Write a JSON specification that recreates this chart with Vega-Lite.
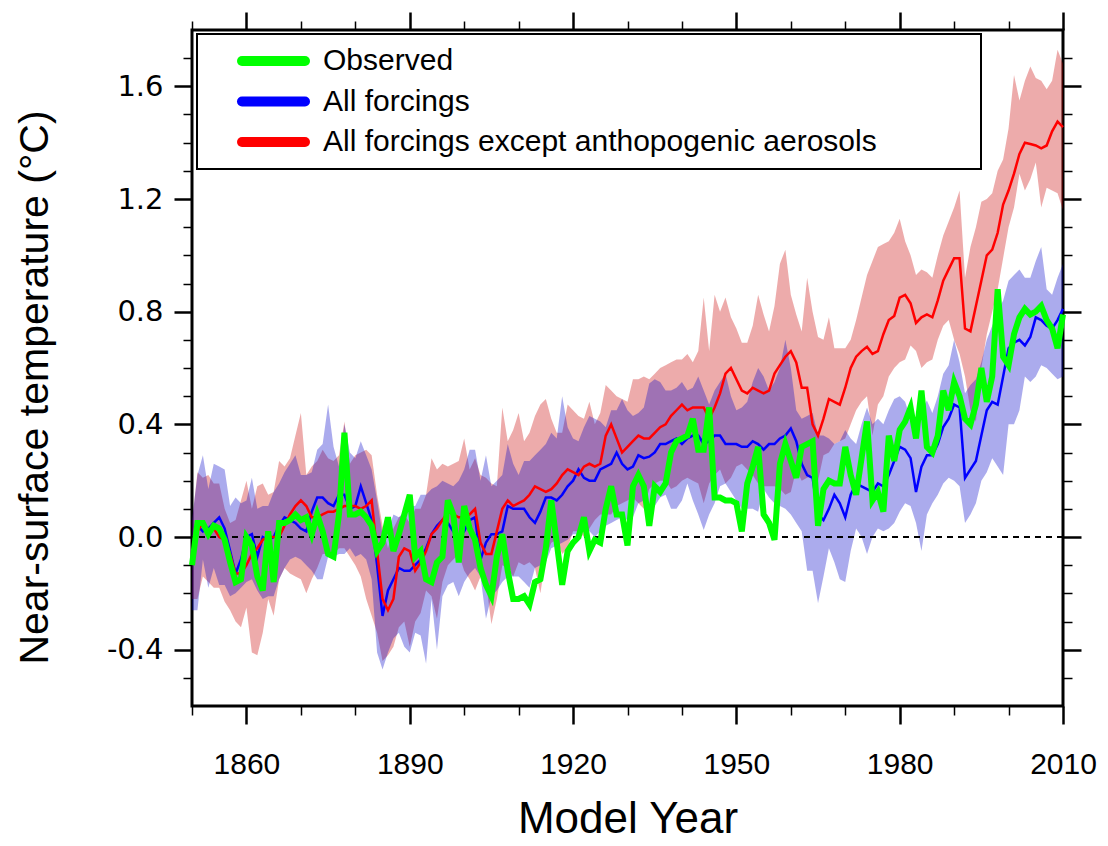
{
  "$schema": "https://vega.github.io/schema/vega-lite/v6.json",
  "width": 871,
  "height": 676,
  "autosize": {"type": "none"},
  "padding": {"left": 192, "top": 30, "right": 45, "bottom": 140},
  "background": "white",
  "config": {
    "view": {"stroke": "black", "strokeWidth": 3},
    "font": "Liberation Sans",
    "axis": {"domain": false, "grid": false, "tickColor": "black", "labelColor": "black", "titleColor": "black", "labelFont": "Liberation Sans", "titleFont": "Liberation Sans", "titleFontWeight": "normal", "labelFlush": false, "labelOverlap": false, "labelBound": false}
  },
  "data": {"values": [
{"year":1850,"obs":-0.10,"all":-0.08,"allLo":-0.26,"allHi":0.06,"aer":-0.08,"aerLo":-0.22,"aerHi":0.05},
{"year":1851,"obs":0.05,"all":0.04,"allLo":-0.26,"allHi":0.22,"aer":0.02,"aerLo":-0.22,"aerHi":0.23},
{"year":1852,"obs":0.05,"all":0.02,"allLo":-0.08,"allHi":0.29,"aer":0.05,"aerLo":-0.14,"aerHi":0.21},
{"year":1853,"obs":0.01,"all":0.03,"allLo":-0.18,"allHi":0.17,"aer":0.02,"aerLo":-0.16,"aerHi":0.22},
{"year":1854,"obs":0.04,"all":0.05,"allLo":-0.11,"allHi":0.26,"aer":0.03,"aerLo":-0.18,"aerHi":0.19},
{"year":1855,"obs":0.03,"all":0.07,"allLo":-0.17,"allHi":0.25,"aer":0.00,"aerLo":-0.18,"aerHi":0.19},
{"year":1856,"obs":-0.01,"all":0.03,"allLo":-0.17,"allHi":0.24,"aer":-0.01,"aerLo":-0.23,"aerHi":0.10},
{"year":1857,"obs":-0.09,"all":-0.05,"allLo":-0.21,"allHi":0.11,"aer":-0.06,"aerLo":-0.26,"aerHi":0.05},
{"year":1858,"obs":-0.16,"all":-0.13,"allLo":-0.20,"allHi":0.14,"aer":-0.13,"aerLo":-0.30,"aerHi":0.06},
{"year":1859,"obs":-0.15,"all":-0.08,"allLo":-0.18,"allHi":0.12,"aer":-0.13,"aerLo":-0.32,"aerHi":0.13},
{"year":1860,"obs":0.00,"all":0.00,"allLo":-0.16,"allHi":0.13,"aer":-0.10,"aerLo":-0.25,"aerHi":0.20},
{"year":1861,"obs":-0.03,"all":0.01,"allLo":-0.15,"allHi":0.21,"aer":-0.06,"aerLo":-0.41,"aerHi":0.10},
{"year":1862,"obs":-0.14,"all":-0.07,"allLo":-0.19,"allHi":0.10,"aer":-0.04,"aerLo":-0.42,"aerHi":0.18},
{"year":1863,"obs":-0.19,"all":0.00,"allLo":-0.22,"allHi":0.11,"aer":-0.01,"aerLo":-0.34,"aerHi":0.19},
{"year":1864,"obs":0.02,"all":-0.01,"allLo":-0.21,"allHi":0.11,"aer":0.00,"aerLo":-0.22,"aerHi":0.15},
{"year":1865,"obs":-0.16,"all":0.00,"allLo":-0.21,"allHi":0.16,"aer":0.00,"aerLo":-0.28,"aerHi":0.16},
{"year":1866,"obs":0.05,"all":0.04,"allLo":-0.15,"allHi":0.19,"aer":0.00,"aerLo":-0.15,"aerHi":0.27},
{"year":1867,"obs":0.05,"all":0.07,"allLo":-0.11,"allHi":0.23,"aer":0.04,"aerLo":-0.11,"aerHi":0.25},
{"year":1868,"obs":0.06,"all":0.06,"allLo":-0.08,"allHi":0.26,"aer":0.08,"aerLo":-0.13,"aerHi":0.28},
{"year":1869,"obs":0.08,"all":0.05,"allLo":-0.07,"allHi":0.29,"aer":0.11,"aerLo":-0.14,"aerHi":0.36},
{"year":1870,"obs":0.06,"all":0.03,"allLo":-0.08,"allHi":0.22,"aer":0.13,"aerLo":-0.15,"aerHi":0.44},
{"year":1871,"obs":0.07,"all":0.02,"allLo":-0.10,"allHi":0.22,"aer":0.11,"aerLo":-0.20,"aerHi":0.22},
{"year":1872,"obs":0.01,"all":0.09,"allLo":-0.12,"allHi":0.23,"aer":0.07,"aerLo":-0.15,"aerHi":0.25},
{"year":1873,"obs":0.08,"all":0.14,"allLo":-0.15,"allHi":0.31,"aer":0.07,"aerLo":-0.11,"aerHi":0.27},
{"year":1874,"obs":0.02,"all":0.14,"allLo":-0.15,"allHi":0.33,"aer":0.08,"aerLo":-0.06,"aerHi":0.31},
{"year":1875,"obs":-0.06,"all":0.12,"allLo":-0.07,"allHi":0.47,"aer":0.09,"aerLo":-0.06,"aerHi":0.28},
{"year":1876,"obs":-0.07,"all":0.11,"allLo":-0.07,"allHi":0.32,"aer":0.09,"aerLo":-0.06,"aerHi":0.27},
{"year":1877,"obs":0.08,"all":0.15,"allLo":-0.06,"allHi":0.25,"aer":0.10,"aerLo":-0.04,"aerHi":0.29},
{"year":1878,"obs":0.37,"all":0.15,"allLo":-0.06,"allHi":0.40,"aer":0.11,"aerLo":-0.04,"aerHi":0.41},
{"year":1879,"obs":0.08,"all":0.10,"allLo":-0.04,"allHi":0.30,"aer":0.11,"aerLo":-0.07,"aerHi":0.26},
{"year":1880,"obs":0.08,"all":0.11,"allLo":-0.07,"allHi":0.28,"aer":0.11,"aerLo":-0.10,"aerHi":0.29},
{"year":1881,"obs":0.09,"all":0.18,"allLo":-0.06,"allHi":0.34,"aer":0.10,"aerLo":-0.14,"aerHi":0.30},
{"year":1882,"obs":0.07,"all":0.12,"allLo":-0.08,"allHi":0.29,"aer":0.11,"aerLo":-0.22,"aerHi":0.31},
{"year":1883,"obs":0.04,"all":0.06,"allLo":-0.15,"allHi":0.24,"aer":0.13,"aerLo":-0.28,"aerHi":0.29},
{"year":1884,"obs":-0.05,"all":-0.10,"allLo":-0.41,"allHi":0.13,"aer":-0.05,"aerLo":-0.34,"aerHi":0.15},
{"year":1885,"obs":-0.02,"all":-0.28,"allLo":-0.47,"allHi":0.01,"aer":-0.22,"aerLo":-0.44,"aerHi":0.04},
{"year":1886,"obs":0.07,"all":-0.19,"allLo":-0.41,"allHi":0.02,"aer":-0.26,"aerLo":-0.42,"aerHi":-0.04},
{"year":1887,"obs":-0.05,"all":-0.15,"allLo":-0.36,"allHi":0.08,"aer":-0.22,"aerLo":-0.39,"aerHi":0.03},
{"year":1888,"obs":0.01,"all":-0.11,"allLo":-0.34,"allHi":0.07,"aer":-0.07,"aerLo":-0.32,"aerHi":0.07},
{"year":1889,"obs":0.08,"all":-0.12,"allLo":-0.39,"allHi":0.09,"aer":-0.04,"aerLo":-0.30,"aerHi":0.08},
{"year":1890,"obs":0.15,"all":-0.12,"allLo":-0.41,"allHi":0.11,"aer":-0.05,"aerLo":-0.39,"aerHi":0.05},
{"year":1891,"obs":-0.07,"all":-0.10,"allLo":-0.34,"allHi":0.11,"aer":-0.12,"aerLo":-0.30,"aerHi":0.10},
{"year":1892,"obs":-0.05,"all":-0.08,"allLo":-0.35,"allHi":0.15,"aer":-0.09,"aerLo":-0.27,"aerHi":0.10},
{"year":1893,"obs":-0.15,"all":-0.04,"allLo":-0.45,"allHi":0.15,"aer":-0.05,"aerLo":-0.19,"aerHi":0.15},
{"year":1894,"obs":-0.16,"all":0.01,"allLo":-0.22,"allHi":0.17,"aer":0.01,"aerLo":-0.21,"aerHi":0.28},
{"year":1895,"obs":-0.09,"all":0.04,"allLo":-0.40,"allHi":0.18,"aer":0.03,"aerLo":-0.29,"aerHi":0.24},
{"year":1896,"obs":-0.07,"all":0.06,"allLo":-0.21,"allHi":0.20,"aer":0.06,"aerLo":-0.16,"aerHi":0.26},
{"year":1897,"obs":0.13,"all":0.05,"allLo":-0.17,"allHi":0.19,"aer":0.09,"aerLo":-0.10,"aerHi":0.25},
{"year":1898,"obs":0.08,"all":0.02,"allLo":-0.16,"allHi":0.18,"aer":0.08,"aerLo":-0.08,"aerHi":0.26},
{"year":1899,"obs":-0.09,"all":0.00,"allLo":-0.21,"allHi":0.20,"aer":0.07,"aerLo":-0.06,"aerHi":0.27},
{"year":1900,"obs":0.11,"all":0.02,"allLo":-0.16,"allHi":0.24,"aer":0.07,"aerLo":-0.12,"aerHi":0.35},
{"year":1901,"obs":0.03,"all":0.06,"allLo":-0.13,"allHi":0.31,"aer":0.08,"aerLo":-0.15,"aerHi":0.24},
{"year":1902,"obs":-0.01,"all":0.07,"allLo":-0.11,"allHi":0.31,"aer":0.10,"aerLo":-0.19,"aerHi":0.28},
{"year":1903,"obs":-0.11,"all":-0.08,"allLo":-0.14,"allHi":0.20,"aer":-0.02,"aerLo":-0.14,"aerHi":0.22},
{"year":1904,"obs":-0.17,"all":-0.02,"allLo":-0.29,"allHi":0.29,"aer":-0.06,"aerLo":-0.16,"aerHi":0.21},
{"year":1905,"obs":-0.21,"all":0.01,"allLo":-0.21,"allHi":0.18,"aer":-0.06,"aerLo":-0.31,"aerHi":0.19},
{"year":1906,"obs":-0.07,"all":0.01,"allLo":-0.19,"allHi":0.20,"aer":0.02,"aerLo":-0.22,"aerHi":0.18},
{"year":1907,"obs":0.01,"all":0.02,"allLo":-0.16,"allHi":0.22,"aer":0.10,"aerLo":-0.10,"aerHi":0.46},
{"year":1908,"obs":-0.12,"all":0.11,"allLo":-0.14,"allHi":0.33,"aer":0.13,"aerLo":-0.11,"aerHi":0.34},
{"year":1909,"obs":-0.22,"all":0.10,"allLo":-0.14,"allHi":0.26,"aer":0.11,"aerLo":-0.14,"aerHi":0.38},
{"year":1910,"obs":-0.22,"all":0.10,"allLo":-0.14,"allHi":0.22,"aer":0.12,"aerLo":-0.09,"aerHi":0.44},
{"year":1911,"obs":-0.21,"all":0.10,"allLo":-0.16,"allHi":0.27,"aer":0.13,"aerLo":-0.10,"aerHi":0.34},
{"year":1912,"obs":-0.24,"all":0.07,"allLo":-0.18,"allHi":0.27,"aer":0.15,"aerLo":-0.09,"aerHi":0.37},
{"year":1913,"obs":-0.16,"all":0.05,"allLo":-0.11,"allHi":0.29,"aer":0.18,"aerLo":-0.11,"aerHi":0.43},
{"year":1914,"obs":-0.15,"all":0.09,"allLo":-0.10,"allHi":0.31,"aer":0.17,"aerLo":-0.20,"aerHi":0.47},
{"year":1915,"obs":-0.04,"all":0.14,"allLo":-0.09,"allHi":0.33,"aer":0.16,"aerLo":-0.07,"aerHi":0.49},
{"year":1916,"obs":0.13,"all":0.14,"allLo":-0.04,"allHi":0.37,"aer":0.17,"aerLo":-0.02,"aerHi":0.42},
{"year":1917,"obs":-0.02,"all":0.13,"allLo":-0.03,"allHi":0.35,"aer":0.19,"aerLo":-0.01,"aerHi":0.37},
{"year":1918,"obs":-0.17,"all":0.15,"allLo":-0.02,"allHi":0.50,"aer":0.22,"aerLo":-0.06,"aerHi":0.37},
{"year":1919,"obs":-0.05,"all":0.18,"allLo":-0.01,"allHi":0.39,"aer":0.24,"aerLo":-0.04,"aerHi":0.47},
{"year":1920,"obs":-0.02,"all":0.20,"allLo":0.01,"allHi":0.35,"aer":0.23,"aerLo":0.02,"aerHi":0.45},
{"year":1921,"obs":0.00,"all":0.24,"allLo":0.01,"allHi":0.34,"aer":0.22,"aerLo":0.02,"aerHi":0.43},
{"year":1922,"obs":0.07,"all":0.21,"allLo":0.04,"allHi":0.39,"aer":0.25,"aerLo":0.00,"aerHi":0.42},
{"year":1923,"obs":-0.05,"all":0.20,"allLo":0.02,"allHi":0.43,"aer":0.26,"aerLo":0.03,"aerHi":0.48},
{"year":1924,"obs":-0.01,"all":0.20,"allLo":0.00,"allHi":0.42,"aer":0.25,"aerLo":0.06,"aerHi":0.40},
{"year":1925,"obs":-0.02,"all":0.24,"allLo":0.02,"allHi":0.41,"aer":0.26,"aerLo":0.08,"aerHi":0.44},
{"year":1926,"obs":0.10,"all":0.25,"allLo":0.04,"allHi":0.39,"aer":0.36,"aerLo":0.08,"aerHi":0.54},
{"year":1927,"obs":0.18,"all":0.26,"allLo":0.05,"allHi":0.45,"aer":0.40,"aerLo":0.08,"aerHi":0.52},
{"year":1928,"obs":0.08,"all":0.30,"allLo":0.06,"allHi":0.45,"aer":0.35,"aerLo":0.11,"aerHi":0.50},
{"year":1929,"obs":0.08,"all":0.26,"allLo":0.07,"allHi":0.49,"aer":0.30,"aerLo":0.12,"aerHi":0.49},
{"year":1930,"obs":-0.03,"all":0.24,"allLo":0.06,"allHi":0.45,"aer":0.32,"aerLo":0.13,"aerHi":0.48},
{"year":1931,"obs":0.18,"all":0.25,"allLo":0.07,"allHi":0.43,"aer":0.34,"aerLo":0.14,"aerHi":0.56},
{"year":1932,"obs":0.22,"all":0.29,"allLo":0.12,"allHi":0.44,"aer":0.36,"aerLo":0.12,"aerHi":0.56},
{"year":1933,"obs":0.18,"all":0.28,"allLo":0.13,"allHi":0.46,"aer":0.35,"aerLo":0.10,"aerHi":0.57},
{"year":1934,"obs":0.04,"all":0.285,"allLo":0.12,"allHi":0.545,"aer":0.35,"aerLo":0.17,"aerHi":0.56},
{"year":1935,"obs":0.18,"all":0.30,"allLo":0.11,"allHi":0.56,"aer":0.37,"aerLo":0.19,"aerHi":0.58},
{"year":1936,"obs":0.16,"all":0.33,"allLo":0.14,"allHi":0.55,"aer":0.39,"aerLo":0.20,"aerHi":0.60},
{"year":1937,"obs":0.19,"all":0.33,"allLo":0.15,"allHi":0.52,"aer":0.40,"aerLo":0.20,"aerHi":0.61},
{"year":1938,"obs":0.30,"all":0.34,"allLo":0.10,"allHi":0.52,"aer":0.43,"aerLo":0.17,"aerHi":0.62},
{"year":1939,"obs":0.34,"all":0.35,"allLo":0.10,"allHi":0.53,"aer":0.45,"aerLo":0.18,"aerHi":0.63},
{"year":1940,"obs":0.35,"all":0.33,"allLo":0.13,"allHi":0.55,"aer":0.47,"aerLo":0.20,"aerHi":0.63},
{"year":1941,"obs":0.36,"all":0.35,"allLo":0.19,"allHi":0.52,"aer":0.45,"aerLo":0.21,"aerHi":0.65},
{"year":1942,"obs":0.42,"all":0.36,"allLo":0.13,"allHi":0.53,"aer":0.46,"aerLo":0.20,"aerHi":0.62},
{"year":1943,"obs":0.31,"all":0.36,"allLo":0.08,"allHi":0.57,"aer":0.46,"aerLo":0.19,"aerHi":0.66},
{"year":1944,"obs":0.31,"all":0.33,"allLo":0.025,"allHi":0.52,"aer":0.46,"aerLo":0.12,"aerHi":0.85},
{"year":1945,"obs":0.46,"all":0.34,"allLo":0.08,"allHi":0.47,"aer":0.42,"aerLo":0.19,"aerHi":0.66},
{"year":1946,"obs":0.14,"all":0.36,"allLo":0.12,"allHi":0.52,"aer":0.46,"aerLo":0.22,"aerHi":0.86},
{"year":1947,"obs":0.14,"all":0.36,"allLo":0.18,"allHi":0.55,"aer":0.51,"aerLo":0.24,"aerHi":0.80},
{"year":1948,"obs":0.13,"all":0.33,"allLo":0.19,"allHi":0.58,"aer":0.58,"aerLo":0.19,"aerHi":0.85},
{"year":1949,"obs":0.13,"all":0.33,"allLo":0.16,"allHi":0.50,"aer":0.60,"aerLo":0.21,"aerHi":0.78},
{"year":1950,"obs":0.12,"all":0.33,"allLo":0.13,"allHi":0.45,"aer":0.56,"aerLo":0.25,"aerHi":0.74},
{"year":1951,"obs":0.02,"all":0.32,"allLo":0.10,"allHi":0.46,"aer":0.52,"aerLo":0.26,"aerHi":0.69},
{"year":1952,"obs":0.19,"all":0.32,"allLo":0.10,"allHi":0.48,"aer":0.51,"aerLo":0.24,"aerHi":0.69},
{"year":1953,"obs":0.25,"all":0.34,"allLo":0.10,"allHi":0.55,"aer":0.53,"aerLo":0.22,"aerHi":0.75},
{"year":1954,"obs":0.32,"all":0.33,"allLo":0.09,"allHi":0.60,"aer":0.52,"aerLo":0.19,"aerHi":0.86},
{"year":1955,"obs":0.08,"all":0.31,"allLo":0.17,"allHi":0.57,"aer":0.51,"aerLo":0.18,"aerHi":0.79},
{"year":1956,"obs":0.05,"all":0.33,"allLo":0.14,"allHi":0.52,"aer":0.52,"aerLo":0.18,"aerHi":0.73},
{"year":1957,"obs":-0.01,"all":0.33,"allLo":0.12,"allHi":0.55,"aer":0.58,"aerLo":0.18,"aerHi":0.82},
{"year":1958,"obs":0.26,"all":0.35,"allLo":0.11,"allHi":0.60,"aer":0.61,"aerLo":0.17,"aerHi":0.97},
{"year":1959,"obs":0.33,"all":0.36,"allLo":0.10,"allHi":0.70,"aer":0.64,"aerLo":0.15,"aerHi":1.02},
{"year":1960,"obs":0.27,"all":0.385,"allLo":0.08,"allHi":0.60,"aer":0.66,"aerLo":0.16,"aerHi":0.86},
{"year":1961,"obs":0.21,"all":0.34,"allLo":0.05,"allHi":0.45,"aer":0.62,"aerLo":0.24,"aerHi":0.79},
{"year":1962,"obs":0.32,"all":0.26,"allLo":0.02,"allHi":0.42,"aer":0.53,"aerLo":0.20,"aerHi":0.73},
{"year":1963,"obs":0.33,"all":0.22,"allLo":-0.12,"allHi":0.43,"aer":0.53,"aerLo":0.21,"aerHi":0.92},
{"year":1964,"obs":0.34,"all":0.21,"allLo":-0.12,"allHi":0.44,"aer":0.40,"aerLo":0.22,"aerHi":0.80},
{"year":1965,"obs":0.04,"all":0.08,"allLo":-0.235,"allHi":0.36,"aer":0.36,"aerLo":0.20,"aerHi":0.71},
{"year":1966,"obs":0.17,"all":0.06,"allLo":-0.14,"allHi":0.36,"aer":0.42,"aerLo":0.29,"aerHi":0.70},
{"year":1967,"obs":0.20,"all":0.10,"allLo":-0.04,"allHi":0.35,"aer":0.49,"aerLo":0.30,"aerHi":0.78},
{"year":1968,"obs":0.19,"all":0.15,"allLo":-0.09,"allHi":0.33,"aer":0.48,"aerLo":0.33,"aerHi":0.67},
{"year":1969,"obs":0.19,"all":0.12,"allLo":-0.15,"allHi":0.34,"aer":0.47,"aerLo":0.34,"aerHi":0.67},
{"year":1970,"obs":0.32,"all":0.07,"allLo":-0.16,"allHi":0.38,"aer":0.53,"aerLo":0.35,"aerHi":0.67},
{"year":1971,"obs":0.22,"all":0.15,"allLo":-0.05,"allHi":0.35,"aer":0.60,"aerLo":0.40,"aerHi":0.70},
{"year":1972,"obs":0.15,"all":0.19,"allLo":0.03,"allHi":0.33,"aer":0.64,"aerLo":0.45,"aerHi":0.77},
{"year":1973,"obs":0.28,"all":0.18,"allLo":0.00,"allHi":0.40,"aer":0.66,"aerLo":0.48,"aerHi":0.85},
{"year":1974,"obs":0.41,"all":0.17,"allLo":-0.06,"allHi":0.46,"aer":0.675,"aerLo":0.50,"aerHi":0.93},
{"year":1975,"obs":0.13,"all":0.16,"allLo":0.00,"allHi":0.40,"aer":0.65,"aerLo":0.36,"aerHi":0.98},
{"year":1976,"obs":0.16,"all":0.19,"allLo":0.03,"allHi":0.42,"aer":0.66,"aerLo":0.47,"aerHi":1.03},
{"year":1977,"obs":0.09,"all":0.18,"allLo":0.02,"allHi":0.40,"aer":0.72,"aerLo":0.50,"aerHi":1.04},
{"year":1978,"obs":0.36,"all":0.22,"allLo":0.03,"allHi":0.45,"aer":0.77,"aerLo":0.57,"aerHi":1.05},
{"year":1979,"obs":0.27,"all":0.27,"allLo":0.05,"allHi":0.49,"aer":0.785,"aerLo":0.60,"aerHi":1.08},
{"year":1980,"obs":0.38,"all":0.32,"allLo":0.09,"allHi":0.50,"aer":0.85,"aerLo":0.62,"aerHi":1.13},
{"year":1981,"obs":0.41,"all":0.31,"allLo":0.12,"allHi":0.48,"aer":0.86,"aerLo":0.63,"aerHi":1.05},
{"year":1982,"obs":0.46,"all":0.28,"allLo":0.11,"allHi":0.42,"aer":0.83,"aerLo":0.68,"aerHi":1.00},
{"year":1983,"obs":0.35,"all":0.16,"allLo":0.05,"allHi":0.40,"aer":0.76,"aerLo":0.66,"aerHi":0.93},
{"year":1984,"obs":0.52,"all":0.25,"allLo":-0.05,"allHi":0.45,"aer":0.78,"aerLo":0.60,"aerHi":0.95},
{"year":1985,"obs":0.32,"all":0.29,"allLo":0.08,"allHi":0.485,"aer":0.79,"aerLo":0.62,"aerHi":0.94},
{"year":1986,"obs":0.30,"all":0.29,"allLo":0.12,"allHi":0.44,"aer":0.78,"aerLo":0.63,"aerHi":0.92},
{"year":1987,"obs":0.36,"all":0.33,"allLo":0.15,"allHi":0.50,"aer":0.84,"aerLo":0.70,"aerHi":1.00},
{"year":1988,"obs":0.52,"all":0.39,"allLo":0.19,"allHi":0.58,"aer":0.91,"aerLo":0.75,"aerHi":1.07},
{"year":1989,"obs":0.45,"all":0.42,"allLo":0.21,"allHi":0.61,"aer":0.95,"aerLo":0.77,"aerHi":1.12},
{"year":1990,"obs":0.55,"all":0.47,"allLo":0.20,"allHi":0.70,"aer":0.99,"aerLo":0.70,"aerHi":1.17},
{"year":1991,"obs":0.50,"all":0.46,"allLo":0.18,"allHi":0.62,"aer":0.99,"aerLo":0.65,"aerHi":1.23},
{"year":1992,"obs":0.42,"all":0.21,"allLo":0.05,"allHi":0.51,"aer":0.74,"aerLo":0.57,"aerHi":0.92},
{"year":1993,"obs":0.40,"all":0.24,"allLo":0.08,"allHi":0.54,"aer":0.73,"aerLo":0.45,"aerHi":1.03},
{"year":1994,"obs":0.47,"all":0.27,"allLo":0.12,"allHi":0.56,"aer":0.82,"aerLo":0.41,"aerHi":1.10},
{"year":1995,"obs":0.60,"all":0.36,"allLo":0.20,"allHi":0.62,"aer":0.91,"aerLo":0.60,"aerHi":1.19},
{"year":1996,"obs":0.48,"all":0.45,"allLo":0.23,"allHi":0.70,"aer":1.00,"aerLo":0.72,"aerHi":1.20},
{"year":1997,"obs":0.57,"all":0.48,"allLo":0.28,"allHi":0.75,"aer":1.02,"aerLo":0.80,"aerHi":1.22},
{"year":1998,"obs":0.88,"all":0.47,"allLo":0.25,"allHi":0.80,"aer":1.08,"aerLo":0.88,"aerHi":1.30},
{"year":1999,"obs":0.64,"all":0.57,"allLo":0.22,"allHi":0.84,"aer":1.18,"aerLo":0.99,"aerHi":1.34},
{"year":2000,"obs":0.61,"all":0.67,"allLo":0.40,"allHi":0.91,"aer":1.23,"aerLo":1.10,"aerHi":1.45},
{"year":2001,"obs":0.72,"all":0.69,"allLo":0.40,"allHi":0.93,"aer":1.29,"aerLo":1.17,"aerHi":1.64},
{"year":2002,"obs":0.78,"all":0.70,"allLo":0.45,"allHi":0.95,"aer":1.36,"aerLo":1.29,"aerHi":1.55},
{"year":2003,"obs":0.81,"all":0.68,"allLo":0.57,"allHi":0.92,"aer":1.40,"aerLo":1.23,"aerHi":1.62},
{"year":2004,"obs":0.79,"all":0.71,"allLo":0.55,"allHi":0.92,"aer":1.395,"aerLo":1.27,"aerHi":1.67},
{"year":2005,"obs":0.80,"all":0.78,"allLo":0.57,"allHi":0.98,"aer":1.39,"aerLo":1.33,"aerHi":1.63},
{"year":2006,"obs":0.82,"all":0.77,"allLo":0.61,"allHi":1.03,"aer":1.38,"aerLo":1.17,"aerHi":1.62},
{"year":2007,"obs":0.77,"all":0.75,"allLo":0.60,"allHi":0.88,"aer":1.39,"aerLo":1.24,"aerHi":1.59},
{"year":2008,"obs":0.74,"all":0.74,"allLo":0.58,"allHi":0.86,"aer":1.44,"aerLo":1.23,"aerHi":1.62},
{"year":2009,"obs":0.67,"all":0.77,"allLo":0.56,"allHi":0.92,"aer":1.475,"aerLo":1.22,"aerHi":1.73},
{"year":2010,"obs":0.79,"all":0.81,"allLo":0.57,"allHi":0.97,"aer":1.455,"aerLo":1.16,"aerHi":1.68}
  ]},
  "resolve": {"axis": {"x": "independent", "y": "independent"}},
  "layer": [
    {
      "mark": {"type": "area", "color": "#c80000", "opacity": 0.33},
      "encoding": {
        "x": {"field": "year", "type": "quantitative", "scale": {"domain": [1850, 2010], "nice": false, "zero": false},
              "axis": {"orient": "bottom", "values": [1860, 1890, 1920, 1950, 1980, 2010], "format": "d", "tickSize": 18, "tickWidth": 2.5, "labelFontSize": 30, "labelPadding": 25, "title": "Model Year", "titleFontSize": 44, "titlePadding": 18}},
        "y": {"field": "aerLo", "type": "quantitative", "scale": {"domain": [-0.6, 1.8], "nice": false, "zero": false},
              "axis": {"orient": "left", "values": [-0.4, 0, 0.4, 0.8, 1.2, 1.6], "labelExpr": "datum.value < 0 ? '-' + format(-datum.value, '.1f') : format(datum.value, '.1f')", "tickSize": 18, "tickWidth": 2.5, "labelFont": "DejaVu Sans", "labelFontSize": 29, "labelPadding": 11, "title": "Near-surface temperature (°C)", "titleFontSize": 41, "titlePadding": 50, "titleY": 357}},
        "y2": {"field": "aerHi"}
      }
    },
    {
      "mark": {"type": "area", "color": "#0000c8", "opacity": 0.33},
      "encoding": {
        "x": {"field": "year", "type": "quantitative",
              "axis": {"orient": "bottom", "values": [1850, 1870, 1880, 1900, 1910, 1930, 1940, 1960, 1970, 1990, 2000], "tickSize": 9, "tickWidth": 1.5, "labels": false, "title": null}},
        "y": {"field": "allLo", "type": "quantitative",
              "axis": {"orient": "left", "values": [-0.5, -0.3, -0.2, -0.1, 0.1, 0.2, 0.3, 0.5, 0.6, 0.7, 0.9, 1.0, 1.1, 1.3, 1.4, 1.5, 1.7], "tickSize": 9, "tickWidth": 1.5, "labels": false, "title": null}},
        "y2": {"field": "allHi"}
      }
    },
    {
      "mark": {"type": "rule", "color": "black", "strokeWidth": 1.5, "strokeDash": [6, 5]},
      "encoding": {
        "y": {"datum": 0, "type": "quantitative", "axis": null}
      }
    },
    {
      "mark": {"type": "line", "strokeWidth": 2.5},
      "encoding": {
        "x": {"field": "year", "type": "quantitative",
              "axis": {"orient": "top", "values": [1860, 1890, 1920, 1950, 1980, 2010], "tickSize": 18, "tickWidth": 2.5, "labels": false, "title": null}},
        "y": {"field": "all", "type": "quantitative",
              "axis": {"orient": "right", "values": [-0.4, 0, 0.4, 0.8, 1.2, 1.6], "tickSize": 18, "tickWidth": 2.5, "labels": false, "title": null}},
        "color": {"datum": "All forcings", "type": "nominal",
                  "scale": {"domain": ["Observed", "All forcings", "All forcings except anthopogenic aerosols"], "range": ["#00ff00", "#0000ff", "#ff0000"]},
                  "legend": {"orient": "none", "legendX": 5, "legendY": 4, "title": null, "direction": "vertical",
                             "symbolType": "stroke", "symbolSize": 3969, "symbolStrokeWidth": 10, "symbolOffset": 28,
                             "labelFontSize": 30, "labelFont": "Liberation Sans", "labelColor": "black", "labelOffset": 13,
                             "clipHeight": 30, "rowPadding": 10.5, "padding": 12,
                             "strokeColor": "black", "fillColor": "white",
                             "labelLimit": 1000,
                             "labelExpr": "datum.label + '\u00a0\u00a0\u00a0\u00a0\u00a0\u00a0\u00a0\u00a0\u00a0\u00a0\u00a0\u200b'",
                             "encode": {"symbols": {"update": {"strokeCap": {"value": "round"}}}, "legend": {"update": {"strokeWidth": {"value": 2}}}}}}
      }
    },
    {
      "mark": {"type": "line", "strokeWidth": 2.5},
      "encoding": {
        "x": {"field": "year", "type": "quantitative",
              "axis": {"orient": "top", "values": [1850, 1870, 1880, 1900, 1910, 1930, 1940, 1960, 1970, 1990, 2000], "tickSize": 9, "tickWidth": 1.5, "labels": false, "title": null}},
        "y": {"field": "aer", "type": "quantitative",
              "axis": {"orient": "right", "values": [-0.5, -0.3, -0.2, -0.1, 0.1, 0.2, 0.3, 0.5, 0.6, 0.7, 0.9, 1.0, 1.1, 1.3, 1.4, 1.5, 1.7], "tickSize": 9, "tickWidth": 1.5, "labels": false, "title": null}},
        "color": {"datum": "All forcings except anthopogenic aerosols", "type": "nominal"}
      }
    },
    {
      "mark": {"type": "line", "strokeWidth": 6},
      "encoding": {
        "x": {"field": "year", "type": "quantitative", "axis": null},
        "y": {"field": "obs", "type": "quantitative", "axis": null},
        "color": {"datum": "Observed", "type": "nominal"}
      }
    }
  ]
}
